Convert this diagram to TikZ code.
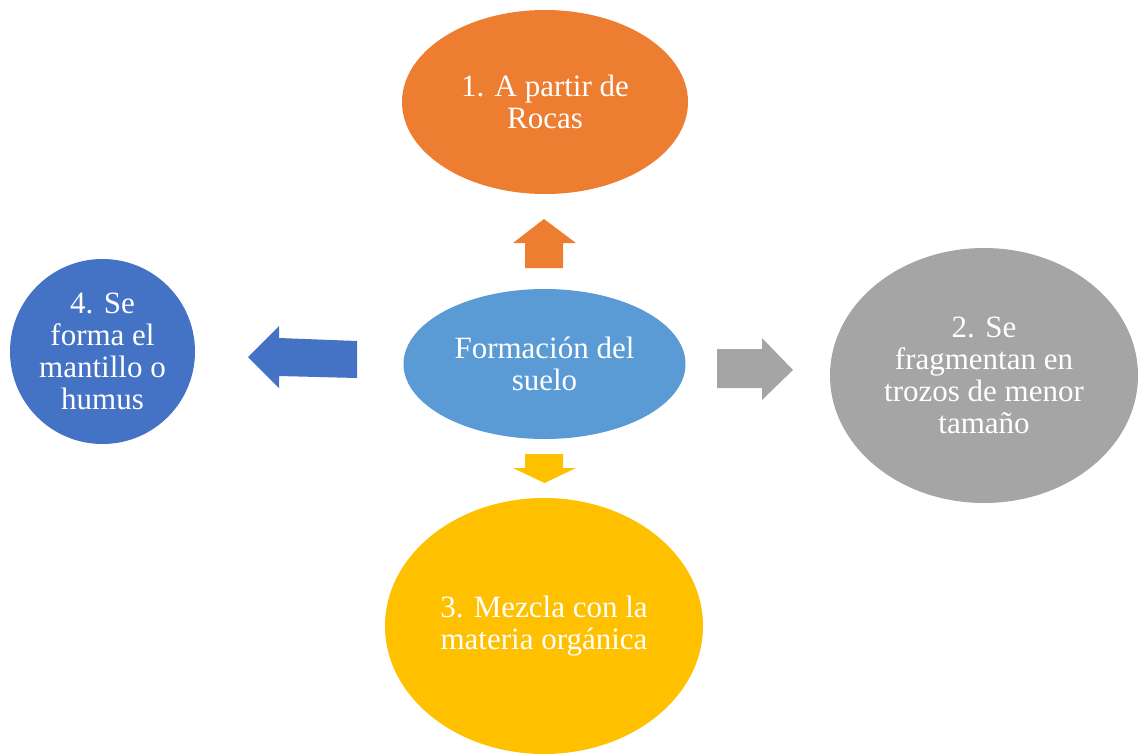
\documentclass[tikz,border=0pt]{standalone}
\usepackage{fontspec}
\setmainfont{Liberation Serif}
\usetikzlibrary{shapes.geometric}
\definecolor{cOrange}{HTML}{ED7D31}
\definecolor{cBlue}{HTML}{5B9BD5}
\definecolor{cGray}{HTML}{A5A5A5}
\definecolor{cYellow}{HTML}{FFC000}
\definecolor{cDark}{HTML}{4472C4}
\tikzset{
  blob/.style={ellipse, inner sep=0pt, text=white, align=center,
    font=\fontsize{31}{32}\selectfont},
  blockarrow/.style={draw=none}
}
\begin{document}
\begin{tikzpicture}[x=1pt,y=-1pt]
\useasboundingbox (0,0) rectangle (1138,753);
\node[blob, fill=cOrange, minimum width=286, minimum height=184] (top) at (545,102) {1. A partir de\\Rocas};
\node[blob, fill=cBlue, minimum width=282, minimum height=150] (center) at (544.5,364) {Formación del\\suelo};
\node[blob, fill=cGray, minimum width=308, minimum height=255] (right) at (984,375.5) {2. Se\\fragmentan en\\trozos de menor\\tamaño};
\node[blob, fill=cYellow, minimum width=318, minimum height=256] (bottom) at (544,626) {3. Mezcla con la\\materia orgánica};
\node[blob, fill=cDark, minimum width=185, minimum height=185] (left) at (102.5,351.5) {4. Se\\forma el\\mantillo o\\humus};
% block arrows
\fill[cOrange] (525,268) -- (525,243) -- (513,243) -- (544,219) -- (576,243) -- (563,243) -- (563,268) -- cycle;
\fill[cYellow] (525,454) -- (525,468) -- (513,468) -- (544.5,483) -- (576,468) -- (563,468) -- (563,454) -- cycle;
\fill[cGray] (717,349) -- (762,349) -- (762,338) -- (793,370) -- (762,400) -- (762,388) -- (717,388) -- cycle;
\fill[cDark] (357,341) -- (279,338) -- (279,326) -- (248,357) -- (279,388) -- (279,376) -- (357,378) -- cycle;
\end{tikzpicture}
\end{document}
